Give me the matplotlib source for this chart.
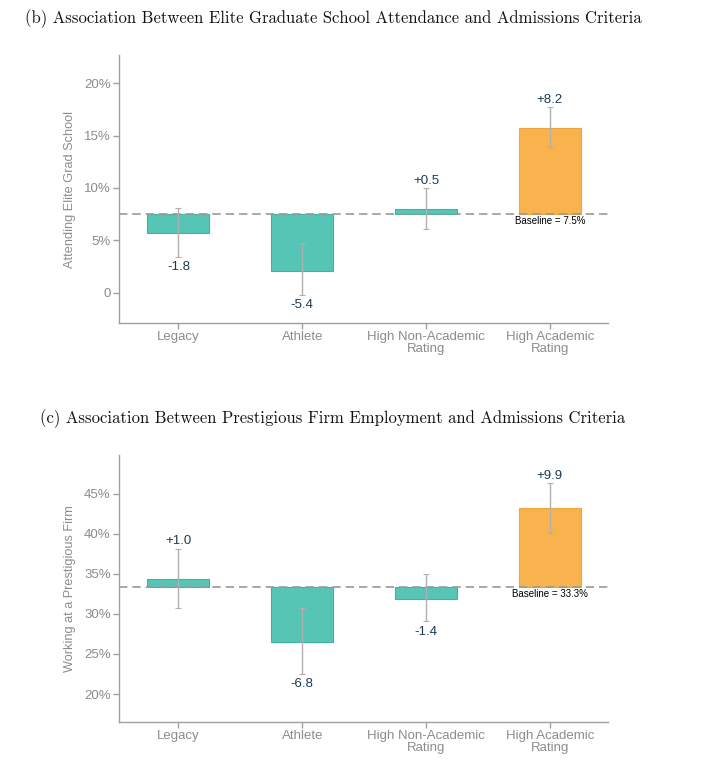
import matplotlib
matplotlib.use("Agg")
import matplotlib.pyplot as plt
import numpy as np

categories = ["Legacy", "Athlete", "High Non-Academic\nRating", "High Academic\nRating"]

# Panel (b)
grad_baseline = 7.5
grad_delta = [-1.8, -5.4, 0.5, 8.2]
grad_ci_low = [3.4, -0.2, 6.1, 13.9]
grad_ci_high = [8.05, 4.7, 10.0, 17.7]
grad_ticks = [0, 5, 10, 15, 20]
grad_ticklabels = ["0", "5%", "10%", "15%", "20%"]

# Panel (c)
firm_baseline = 33.3
firm_delta = [1.0, -6.8, -1.4, 9.9]
firm_ci_low = [30.7, 22.5, 29.05, 40.1]
firm_ci_high = [38.1, 30.7, 35.0, 46.3]
firm_ticks = [20, 25, 30, 35, 40, 45]
firm_ticklabels = ["20%", "25%", "30%", "35%", "40%", "45%"]

TEAL = "#56c5b5"
TEAL_EDGE = "#3fb3a2"
ORANGE = "#f9b34e"
ORANGE_EDGE = "#efa43c"
GRAY = "#8c8c8c"
AXGRAY = "#a0a0a0"
NAVY = "#1c3a56"

plt.rcParams['font.family'] = ['Liberation Sans', 'DejaVu Sans']

W, H = 707, 771
fig = plt.figure(figsize=(W / 100, H / 100), dpi=100)


def panel(rect, title, title_x, title_y, baseline, delta, lo, hi, ticks, ticklabels,
          ylim, ylabel, base_label):
    ax = fig.add_axes(rect)
    x = np.arange(len(categories))
    colors = [TEAL, TEAL, TEAL, ORANGE]
    edges = [TEAL_EDGE, TEAL_EDGE, TEAL_EDGE, ORANGE_EDGE]
    ax.bar(x, delta, bottom=baseline, width=0.5, color=colors, edgecolor=edges,
           linewidth=0.8, zorder=2)
    ax.axhline(baseline, color="#999999", linestyle=(0, (5, 3)), linewidth=1.2, zorder=3)
    ends = np.array(delta) + baseline
    lo = np.array(lo)
    hi = np.array(hi)
    ax.errorbar(x, ends, yerr=[ends - lo, hi - ends], fmt="none", ecolor="#b0b0b0",
                elinewidth=1.0, capsize=2, capthick=0.8, zorder=4)
    for xi, d, l, h in zip(x, delta, lo, hi):
        txt = f"{d:+.1f}" if d > 0 else f"{d:.1f}"
        if d > 0:
            ax.annotate(txt, (xi, h), xytext=(0, 1), textcoords="offset points",
                        ha="center", va="bottom", color=NAVY, fontsize=9.5)
        else:
            ax.annotate(txt, (xi, l), xytext=(0, -3), textcoords="offset points",
                        ha="center", va="top", color=NAVY, fontsize=9.5)
    ax.annotate(base_label, (3, baseline), xytext=(0, -1.5), textcoords="offset points",
                ha="center", va="top", color="black", fontsize=7)
    ax.set_xlim(-0.48, 3.47)
    ax.set_ylim(*ylim)
    ax.set_xticks(x)
    ax.set_xticklabels(categories, color=GRAY, fontsize=9.5, linespacing=0.95)
    ax.set_yticks(ticks)
    ax.set_yticklabels(ticklabels, color=GRAY, fontsize=9.5)
    ax.set_ylabel(ylabel, color=GRAY, fontsize=9.2, labelpad=6)
    for s in ["top", "right"]:
        ax.spines[s].set_visible(False)
    for s in ["left", "bottom"]:
        ax.spines[s].set_color(AXGRAY)
        ax.spines[s].set_linewidth(1.0)
    ax.tick_params(axis="both", colors=AXGRAY, length=4, width=1.0, pad=2)
    ax.tick_params(axis="x", labelcolor=GRAY)
    ax.tick_params(axis="y", labelcolor=GRAY)
    fig.text(title_x, title_y, title, fontfamily=["cmr10", "DejaVu Serif"], fontsize=12,
             ha="left", va="center", color="#111111")
    return ax


panel([119 / W, (H - 323) / H, (608 - 119) / W, (323 - 55) / H],
      "(b) Association Between Elite Graduate School Attendance and Admissions Criteria",
      25 / W, 1 - 19 / H, grad_baseline, grad_delta, grad_ci_low, grad_ci_high,
      grad_ticks, grad_ticklabels, (-2.9, 22.7), "Attending Elite Grad School",
      "Baseline = 7.5%")

panel([119 / W, (H - 721.7) / H, (608 - 119) / W, (721.7 - 455) / H],
      "(c) Association Between Prestigious Firm Employment and Admissions Criteria",
      40 / W, 1 - 419 / H, firm_baseline, firm_delta, firm_ci_low, firm_ci_high,
      firm_ticks, firm_ticklabels, (16.55, 49.8), "Working at a Prestigious Firm",
      "Baseline = 33.3%")

fig.savefig("out.png", dpi=100, facecolor="white")
